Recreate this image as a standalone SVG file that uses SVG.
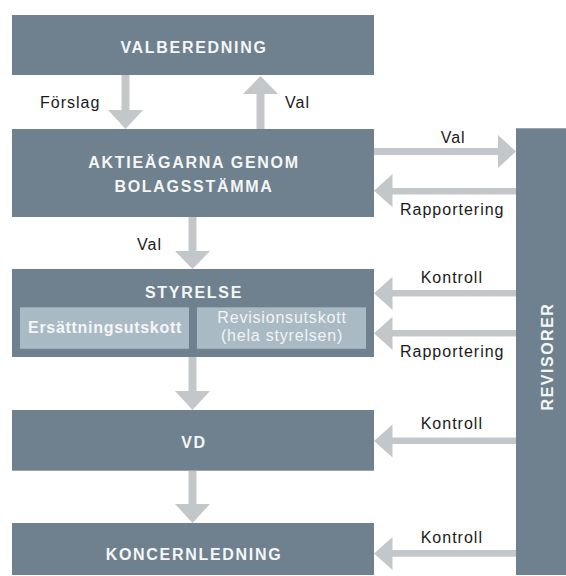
<svg xmlns="http://www.w3.org/2000/svg" width="566" height="576" viewBox="0 0 566 576">
<style>
.box{fill:#6f818e}
.sub{fill:#aabac4}
.arr{fill:#c4c7c9}
.title{font-family:"Liberation Sans",Arial,sans-serif;font-size:16px;font-weight:bold;fill:#f4f6f7;letter-spacing:1.7px;text-anchor:middle}
.lbl{font-family:"Liberation Sans",Arial,sans-serif;font-size:16px;fill:#1a1a1a;letter-spacing:1px}
.subb{font-family:"Liberation Sans",Arial,sans-serif;font-size:16px;font-weight:bold;fill:#f4f6f7;letter-spacing:0.7px;text-anchor:middle}
.subr{font-family:"Liberation Sans",Arial,sans-serif;font-size:16px;fill:#f1f4f6;letter-spacing:0.8px;text-anchor:middle}
</style>
<rect width="566" height="576" fill="#ffffff"/>
<g id="connectors">
  <!-- Förslag down -->
  <polygon class="arr" points="121.5,75 129.5,75 129.5,110 143,110 125.5,129 108,110 121.5,110"/>
  <!-- Val up -->
  <polygon class="arr" points="256.5,129 264.5,129 264.5,94 278,94 260.5,76 243,94 256.5,94"/>
  <!-- Val down to Styrelse -->
  <polygon class="arr" points="188.5,217 196.5,217 196.5,251 210,251 192.5,269 175,251 188.5,251"/>
  <!-- Styrelse to VD -->
  <polygon class="arr" points="188.5,357 196.5,357 196.5,391 210,391 192.5,410 175,391 188.5,391"/>
  <!-- VD to Koncernledning -->
  <polygon class="arr" points="188.5,471 196.5,471 196.5,504 210,504 192.5,523 175,504 188.5,504"/>
  <!-- Val right to Revisorer -->
  <polygon class="arr" points="374,148 498,148 498,135 516,151.5 498,168 498,155 374,155"/>
  <!-- Rapportering left -->
  <polygon class="arr" points="516,188 392.5,188 392.5,174 374,190.7 392.5,207.3 392.5,194.5 516,194.5"/>
  <!-- Kontroll Styrelse -->
  <polygon class="arr" points="516,290 392.5,290 392.5,276.7 374,293.3 392.5,310 392.5,296.5 516,296.5"/>
  <!-- Rapportering Styrelse -->
  <polygon class="arr" points="516,330 392.5,330 392.5,316.7 374,333.3 392.5,350 392.5,336.5 516,336.5"/>
  <!-- Kontroll VD -->
  <polygon class="arr" points="516,437.5 392.5,437.5 392.5,424.5 374,441 392.5,457.5 392.5,444 516,444"/>
  <!-- Kontroll Koncernledning -->
  <polygon class="arr" points="516,550 392.5,550 392.5,537 374,553.5 392.5,570 392.5,556.7 516,556.7"/>
  <text class="lbl" x="40" y="108.3">Förslag</text>
  <text class="lbl" x="285" y="108.3">Val</text>
  <text class="lbl" x="440.7" y="142.7">Val</text>
  <text class="lbl" x="400" y="215">Rapportering</text>
  <text class="lbl" x="137" y="250">Val</text>
  <text class="lbl" x="420.7" y="283.3">Kontroll</text>
  <text class="lbl" x="400" y="357.3">Rapportering</text>
  <text class="lbl" x="420.7" y="429.3">Kontroll</text>
  <text class="lbl" x="420.7" y="542.7">Kontroll</text>
</g>
<g id="valberedning">
  <rect class="box" x="12" y="15" width="362" height="60"/>
  <text class="title" x="194" y="53.3">VALBEREDNING</text>
</g>
<g id="aktieagarna">
  <rect class="box" x="12" y="129" width="362" height="88"/>
  <text class="title" x="194" y="168">AKTIEÄGARNA GENOM</text>
  <text class="title" x="194" y="192">BOLAGSSTÄMMA</text>
</g>
<g id="styrelse">
  <rect class="box" x="12" y="269" width="362" height="88"/>
  <text class="title" x="194" y="298.3">STYRELSE</text>
  <g id="ersattningsutskott">
    <rect class="sub" x="20" y="307.3" width="169" height="41.5"/>
    <text class="subb" x="105" y="332.7">Ersättningsutskott</text>
  </g>
  <g id="revisionsutskott">
    <rect class="sub" x="197" y="307.3" width="169" height="41.5"/>
    <text class="subr" x="282" y="322.5">Revisionsutskott</text>
    <text class="subr" x="282" y="340.8">(hela styrelsen)</text>
  </g>
</g>
<g id="vd">
  <rect class="box" x="12" y="410" width="362" height="60.7"/>
  <text class="title" x="194" y="447.7">VD</text>
</g>
<g id="koncernledning">
  <rect class="box" x="12" y="523" width="362" height="52"/>
  <text class="title" x="194" y="560">KONCERNLEDNING</text>
</g>
<g id="revisorer">
  <rect class="box" x="516" y="128.3" width="50" height="446.7"/>
  <text class="title" transform="translate(552.7,356.5) rotate(-90)" x="0" y="0" style="letter-spacing:1.5px">REVISORER</text>
</g>
</svg>
